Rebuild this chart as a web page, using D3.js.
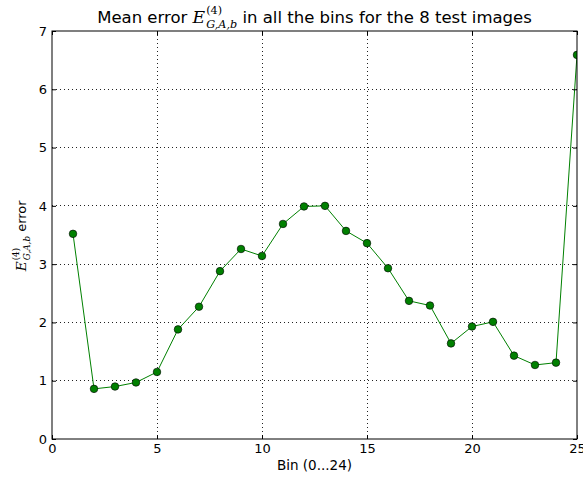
<!DOCTYPE html>
<html><head><meta charset="utf-8">
<script src="https://cdn.jsdelivr.net/npm/d3@7"></script>
<style>
body{margin:0;background:#fff;}
svg{display:block;}
</style></head>
<body><svg id="c" width="583" height="479"></svg>
<script>
const bins = [1,2,3,4,5,6,7,8,9,10,11,12,13,14,15,16,17,18,19,20,21,22,23,24,25];
const meanError = [3.52,0.86,0.90,0.97,1.15,1.88,2.27,2.88,3.26,3.14,3.69,3.99,4.00,3.57,3.36,2.93,2.37,2.29,1.64,1.93,2.01,1.43,1.27,1.31,6.59];
const xTicks = [0,5,10,15,20,25];
const yTicks = [0,1,2,3,4,5,6,7];
const titleParts = {pre:"Mean error ", post:" in all the bins for the 8 test images"};
const xLabel = "Bin (0...24)";

const W=583,H=479, m={l:52,t:31,r:6,b:40};
const w=W-m.l-m.r, h=H-m.t-m.b;
const svg=d3.select("#c");
const g=svg.append("g").attr("transform",`translate(${m.l},${m.t})`);
const x=d3.scaleLinear().domain([0,25]).range([0,w]);
const y=d3.scaleLinear().domain([0,7]).range([h,0]);
const font="DejaVu Sans";

// grid
g.append("g").selectAll("line").data(xTicks.slice(1,-1)).join("line")
 .attr("x1",d=>x(d)+0.5).attr("x2",d=>x(d)+0.5).attr("y1",0).attr("y2",h)
 .attr("stroke","#222").attr("stroke-width",1).attr("stroke-dasharray","1,3").attr("shape-rendering","crispEdges");
g.append("g").selectAll("line").data(yTicks.slice(1,-1)).join("line")
 .attr("y1",d=>y(d)).attr("y2",d=>y(d)).attr("x1",0).attr("x2",w)
 .attr("stroke","#222").attr("stroke-width",1).attr("stroke-dasharray","1,3").attr("shape-rendering","crispEdges");

// data
svg.append("defs").append("clipPath").attr("id","clip").append("rect").attr("width",w).attr("height",h);
const pg=g.append("g").attr("clip-path","url(#clip)");
pg.append("path").datum(bins.map((b,i)=>[b,meanError[i]]))
 .attr("d",d3.line().x(d=>x(d[0])).y(d=>y(d[1])))
 .attr("fill","none").attr("stroke","#008000").attr("stroke-width",1);
pg.selectAll("circle").data(bins.map((b,i)=>[b,meanError[i]])).join("circle")
 .attr("cx",d=>x(d[0])).attr("cy",d=>y(d[1])).attr("r",3.8)
 .attr("fill","#008000").attr("stroke","#000").attr("stroke-width",0.6);

// axes
function style(sel){sel.select(".domain").remove();sel.selectAll("text").attr("font-family",font).attr("font-size",13).attr("fill","#000");sel.selectAll("line").attr("stroke","#000");}
g.append("g").attr("transform",`translate(0,${h})`).call(d3.axisBottom(x).tickValues(xTicks).tickSizeInner(-4).tickSizeOuter(0).tickPadding(5).tickFormat(d3.format("d"))).call(style);
g.append("g").call(d3.axisLeft(y).tickValues(yTicks).tickSizeInner(-4).tickSizeOuter(0).tickPadding(5).tickFormat(d3.format("d"))).call(style);
g.append("g").call(d3.axisTop(x).tickValues(xTicks).tickSizeInner(-4).tickSizeOuter(0).tickFormat("")).call(style);
g.append("g").attr("transform",`translate(${w},0)`).call(d3.axisRight(y).tickValues(yTicks).tickSizeInner(-4).tickSizeOuter(0).tickFormat("")).call(style);
g.append("rect").attr("width",w).attr("height",h).attr("fill","none").attr("stroke","#000").attr("stroke-width",1);

// math label builder
function mathText(sel, pre, post, size){
  const t=sel.append("text").attr("font-family",font).attr("font-size",size).attr("fill","#000");
  if(pre) t.append("tspan").text(pre);
  t.append("tspan").attr("font-family","DejaVu Serif").attr("font-style","italic").attr("font-size",size*1.05).text("E");
  const sup=t.append("tspan").attr("font-family","DejaVu Serif").attr("font-size",size*0.68).attr("dy",-size*0.55).attr("dx",1).text("(4)");
  const supW=sup.node().getComputedTextLength();
  const sub=t.append("tspan").attr("font-family","DejaVu Serif").attr("font-style","italic").attr("font-size",size*0.68).attr("dx",-supW).attr("dy",size*0.85).text("G,A,b");
  t.append("tspan").attr("dy",-size*0.3).text(post);
  return t;
}
const title=mathText(svg, titleParts.pre, titleParts.post, 16.5);
const bb=title.node().getBBox();
title.attr("transform",`translate(${m.l+w/2-bb.width/2},23)`);

const yl=mathText(svg, "", " error", 13);
const yb=yl.node().getBBox();
yl.attr("transform",`translate(26,${m.t+h/2+yb.width/2}) rotate(-90)`);

svg.append("text").attr("x",m.l+w/2).attr("y",470).attr("text-anchor","middle")
 .attr("font-family",font).attr("font-size",13.5).text(xLabel);
</script></body></html>
